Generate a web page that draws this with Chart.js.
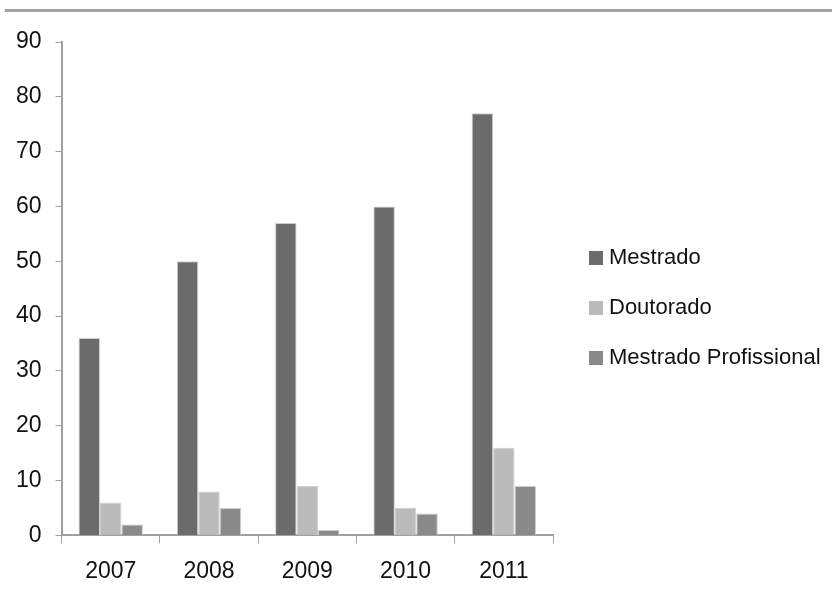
<!DOCTYPE html>
<html>
<head>
<meta charset="utf-8">
<script src="https://cdn.jsdelivr.net/npm/chart.js@4.4.1/dist/chart.umd.min.js"></script>
<style>
  body { margin: 0; background: #fff; }
  .wrap { position: relative; width: 832px; height: 596px; }
  .topline { position: absolute; top: 9px; left: 5px; right: 0; height: 3px; background: #a3a3a3; }
  #legend { position: absolute; left: 589px; top: 243px; font-family: 'Liberation Sans', Arial, sans-serif; font-size: 22px; color: #111; }
  #legend div { height: 28px; line-height: 28px; margin-bottom: 22px; white-space: nowrap; }
  #legend span { display: inline-block; width: 14px; height: 14px; margin-right: 6px; vertical-align: -1px; }
</style>
</head>
<body>
<div class="wrap">
  <div class="topline"></div>
  <canvas id="myChart" width="832" height="596"></canvas>
  <div id="legend"></div>
</div>
<script>
var years = ["2007", "2008", "2009", "2010", "2011"];
var mestrado = [36, 50, 57, 60, 77];
var doutorado = [6, 8, 9, 5, 16];
var mestradoProf = [2, 5, 1, 4, 9];

var axisColor = '#a0a0a0';
var font = 'Liberation Sans, Arial, sans-serif';

const ctx = document.getElementById('myChart').getContext('2d');

const chart = new Chart(ctx, {
  type: 'bar',
  data: {
    labels: years,
    datasets: [{
      label: 'Mestrado',
      backgroundColor: '#6b6b6b',
      borderColor: '#cfcfcf',
      data: mestrado,
    },
    {
      label: 'Doutorado',
      backgroundColor: '#bbbbbb',
      borderColor: '#cfcfcf',
      data: doutorado,
    },
    {
      label: 'Mestrado Profissional',
      backgroundColor: '#8a8a8a',
      borderColor: '#cfcfcf',
      data: mestradoProf,
    }]
  },
  options: {
    responsive: false,
    animation: false,
    layout: { padding: { top: 42, left: 2, right: 279, bottom: -3 } },
    datasets: {
      bar: { categoryPercentage: 0.655, barPercentage: 1, borderWidth: 1 }
    },
    scales: {
      x: {
        grid: { drawOnChartArea: false, color: axisColor, tickLength: 8, offset: true },
        border: { color: axisColor, width: 2 },
        ticks: { color: '#111', font: { family: font, size: 23 }, padding: 14 }
      },
      y: {
        min: 0,
        max: 90,
        grid: { drawOnChartArea: false, color: axisColor, tickLength: 6 },
        border: { color: axisColor, width: 2 },
        ticks: { stepSize: 10, color: '#111', font: { family: font, size: 23 }, padding: 14 }
      }
    },
    plugins: {
      tooltip: { enabled: false },
      legend: { display: false }
    }
  }
});

// legend built from the chart's own legend items
var items = chart.options.plugins.legend.labels.generateLabels(chart);
var legendEl = document.getElementById('legend');
items.forEach(function (item) {
  var row = document.createElement('div');
  var box = document.createElement('span');
  box.style.background = item.fillStyle;
  row.appendChild(box);
  row.appendChild(document.createTextNode(item.text));
  legendEl.appendChild(row);
});
</script>
</body>
</html>
